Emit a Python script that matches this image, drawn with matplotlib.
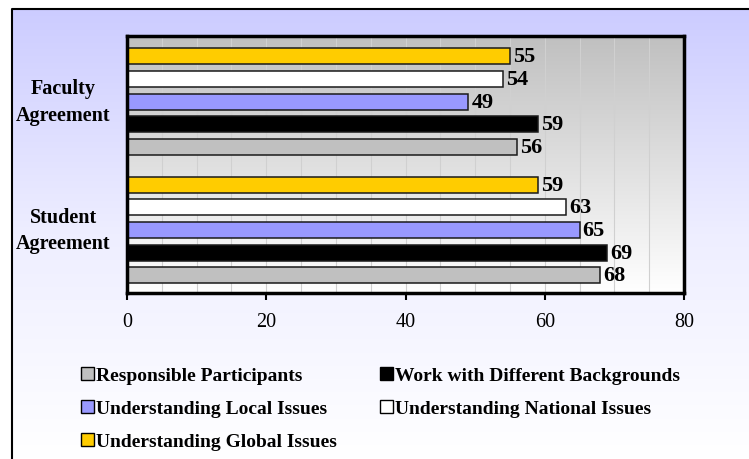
import numpy as np
import matplotlib
matplotlib.use('Agg')
import matplotlib.pyplot as plt
from matplotlib.patches import Patch
from matplotlib.colors import LinearSegmentedColormap

groups = ['Student\nAgreement', 'Faculty\nAgreement']
series = ['Responsible Participants', 'Work with Different Backgrounds',
          'Understanding Local Issues', 'Understanding National Issues',
          'Understanding Global Issues']
student = [68, 69, 65, 63, 59]
faculty = [56, 59, 49, 54, 55]
colors = ['#C0C0C0', '#000000', '#9999FF', '#FFFFFF', '#FFCC00']
xticks = [0, 20, 40, 60, 80]

plt.rcParams['font.family'] = ['Liberation Serif', 'DejaVu Serif']

fig = plt.figure(figsize=(7.49, 4.60), dpi=100)
W, H = 749, 460

# figure background: lavender gradient inside a frame
bg = fig.add_axes([12 / W, 0, 1 - 12 / W, 1 - 10 / H])
bg_cmap = LinearSegmentedColormap.from_list('bg', ['#FFFFFF', '#EEEEFF', '#CCCCFF'])
bg.imshow(np.linspace(0, 1, 256).reshape(-1, 1)[::-1], aspect='auto', cmap=bg_cmap,
          extent=[0, 1, 0, 1])
bg.set_xlim(0, 1)
bg.set_ylim(0, 1)
bg.axis('off')
bg.plot([0, 0, 1], [0, 1, 1], color='black', lw=1.5, clip_on=False)

ax = fig.add_axes([127 / W, 1 - 294 / H, (684 - 127) / W, (294 - 37) / H])
ylo, yhi = -0.49, 1.51
pa_cmap = LinearSegmentedColormap.from_list('pa', ['#FFFFFF', '#C0C0C0'])
ax.imshow(np.linspace(0, 1, 256).reshape(-1, 1)[::-1], aspect='auto', cmap=pa_cmap,
          extent=[0, 80, ylo, yhi], zorder=0)

for x in np.arange(5, 80, 5):
    ax.axvline(x, color='#D0D0D0', lw=0.8, zorder=1)

step = 0.176
height = 0.125
data = np.array([student, faculty])
for i in range(len(series)):
    ypos = np.arange(len(groups)) + (i - 2) * step
    vals = data[:, i]
    ax.barh(ypos, vals, height=height, color=colors[i], edgecolor='#1a1a1a',
            linewidth=1.1, zorder=2)
    for y, v in zip(ypos, vals):
        ax.text(v + 0.45, y, str(v), va='center', ha='left', fontsize=16,
                fontweight='bold', zorder=3)

ax.set_xlim(0, 80)
ax.set_ylim(ylo, yhi)
ax.set_xticks(xticks)
ax.set_xticklabels([str(t) for t in xticks], fontsize=14.5)
ax.tick_params(axis='x', length=5, width=1.5, pad=9)
ax.set_yticks(range(len(groups)))
ax.set_yticklabels(groups, fontsize=14.5, fontweight='bold', ha='center', va='center',
                   multialignment='center', linespacing=1.45)
ax.tick_params(axis='y', length=0, pad=46)
for s in ax.spines.values():
    s.set_linewidth(2.5)

handles = [Patch(facecolor=c, edgecolor='black', linewidth=1.0) for c in colors]
order = [0, 2, 4, 1, 3]
fig.legend([handles[k] for k in order], [series[k] for k in order],
           ncol=2, frameon=False, loc='upper left', bbox_to_anchor=(63 / W, 1 - 350 / H),
           prop={'weight': 'bold', 'size': 14}, handlelength=0.7, handleheight=0.7,
           handletextpad=0.1, columnspacing=2.2, labelspacing=0.8)

fig.savefig('out.png', dpi=100)
